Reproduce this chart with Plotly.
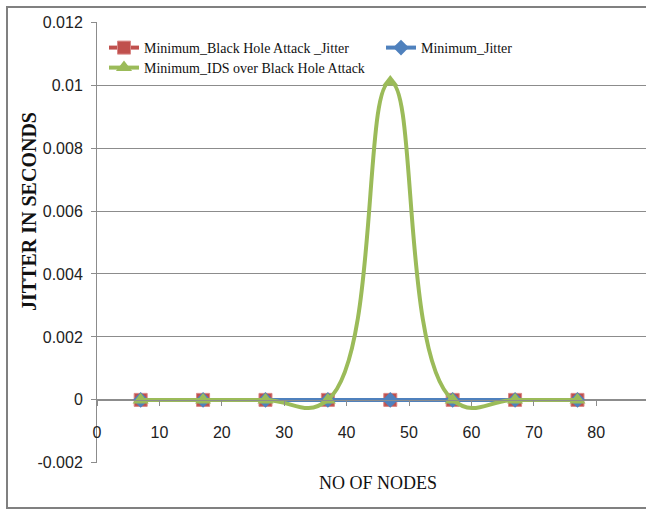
import plotly.graph_objects as go

nodes = [7, 17, 27, 37, 47, 57, 67, 77]
black_hole_jitter = [0, 0, 0, 0, 0, 0, 0, 0]
min_jitter = [0, 0, 0, 0, 0, 0, 0, 0]
ids_jitter = [0, 0, 0, 0, 0.0101, 0, 0, 0]

names = ["Minimum_Black Hole Attack _Jitter", "Minimum_Jitter", "Minimum_IDS over Black Hole Attack"]
y_ticks = [-0.002, 0, 0.002, 0.004, 0.006, 0.008, 0.01, 0.012]
y_ticktext = ["-0.002", "0", "0.002", "0.004", "0.006", "0.008", "0.01", "0.012"]
x_ticks = [0, 10, 20, 30, 40, 50, 60, 70, 80, 90]

RED = "#C0504D"
BLUE = "#4F81BD"
GREEN = "#9BBB59"
GRID = "#8C8C8C"
TICKFONT = dict(family="Liberation Sans Narrow, Arial Narrow, Liberation Sans, sans-serif", size=16, color="#222")
SERIF = "Liberation Serif, Times New Roman, serif"

W, H = 646, 511
L, R, T, B = 97, 0, 22, 48
pw, ph = W - L - R, H - T - B

fig = go.Figure()
fig.add_trace(go.Scatter(x=nodes, y=black_hole_jitter, name=names[0], mode="lines+markers",
                         line=dict(color=RED, width=4),
                         marker=dict(symbol="square", size=13, color=RED, line=dict(color="#D98886", width=1)),
                         legend="legend"))
fig.add_trace(go.Scatter(x=nodes, y=min_jitter, name=names[1], mode="lines+markers",
                         line=dict(color=BLUE, width=4),
                         marker=dict(symbol="diamond", size=12, color=BLUE),
                         legend="legend2"))
fig.add_trace(go.Scatter(x=nodes, y=ids_jitter, name=names[2], mode="lines+markers",
                         line=dict(color=GREEN, width=4, shape="spline", smoothing=1.3),
                         marker=dict(symbol="triangle-up", size=14, color=GREEN),
                         legend="legend3"))

x_max = pw / 62.4 * 10
y0_paper = (0 - (-0.002)) / 0.014

LEG = dict(orientation="v", xanchor="left", yanchor="top", bgcolor="rgba(0,0,0,0)",
           font=dict(family=SERIF, size=14, color="#111"), itemwidth=30)

fig.update_layout(
    width=W, height=H,
    margin=dict(l=L, r=R, t=T, b=B),
    paper_bgcolor="white", plot_bgcolor="white",
    showlegend=True,
    xaxis=dict(range=[0, x_max], tickvals=x_ticks, showgrid=False, zeroline=False,
               showline=True, linecolor=GRID, linewidth=1,
               ticks="outside", ticklen=5, tickcolor=GRID,
               anchor="free", position=y0_paper, ticklabelstandoff=13,
               tickfont=TICKFONT),
    yaxis=dict(range=[-0.002005, 0.012005], tickvals=y_ticks, ticktext=y_ticktext,
               showgrid=True, gridcolor=GRID, gridwidth=1, zeroline=False,
               showline=True, linecolor=GRID, linewidth=1,
               ticks="outside", ticklen=5, tickcolor=GRID, ticklabelstandoff=5,
               tickfont=TICKFONT),
    legend=dict(LEG, x=(104 - L) / pw, y=1 - (32 - T) / ph),
    legend2=dict(LEG, x=(381 - L) / pw, y=1 - (32 - T) / ph),
    legend3=dict(LEG, x=(104 - L) / pw, y=1 - (52 - T) / ph),
    shapes=[dict(type="rect", xref="paper", yref="paper",
                 x0=(7 - L) / pw, x1=(660 - L) / pw,
                 y0=(H - B - 508) / ph, y1=(H - B - 7) / ph,
                 line=dict(color="#808080", width=2), layer="below")],
    annotations=[
        dict(text="<b>JITTER IN SECONDS</b>", xref="paper", yref="paper",
             x=(29 - L) / pw, y=(H - B - 212) / ph, textangle=-90, showarrow=False,
             font=dict(family=SERIF, size=20, color="#111"), xanchor="center", yanchor="middle"),
        dict(text="NO OF NODES", xref="paper", yref="paper",
             x=(378 - L) / pw, y=(H - B - 483) / ph, showarrow=False,
             font=dict(family=SERIF, size=18, color="#111"), xanchor="center", yanchor="middle"),
    ],
)

fig.write_html("out.html")
